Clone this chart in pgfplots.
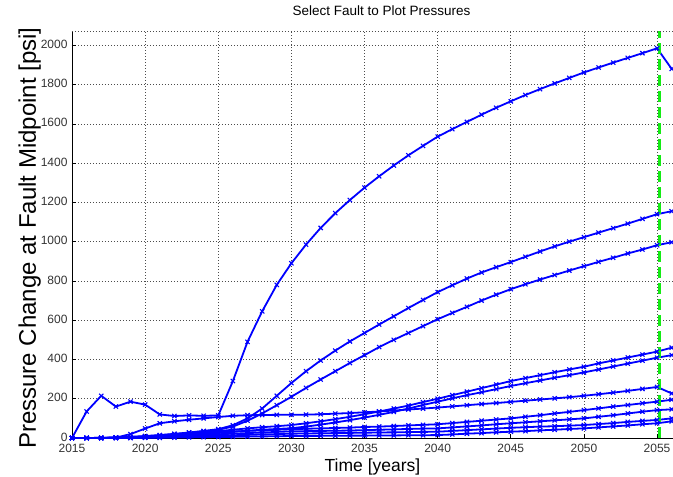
\documentclass[border=0pt]{standalone}
\usepackage{pgfplots}
\pgfplotsset{compat=1.18}
\usepackage{pgfplotstable}
\usepackage{fontspec}
\setmainfont{Liberation Sans}
\definecolor{mblue}{RGB}{0,0,255}
\definecolor{mgreen}{RGB}{20,235,20}
\pgfplotstableread{
year A B C D Dp E F G H I
2015 0 0 0 0 0 0 0 0 0 0
2016 135 0 0 0 0 0 0 0 0 0
2017 215 1 1 0 0 0 0 0 0 0
2018 160 3 2 1 1 2 1 1 0 0
2019 185 6 5 3 2 20 3 2 1 0
2020 170 10 9 6 4 48 6 4 2 1
2021 120 15 14 10 7 75 10 6 4 1
2022 112 21 20 15 11 85 14 9 6 2
2023 115 28 27 21 16 93 19 12 8 3
2024 113 36 34 28 21 100 24 15 10 4
2025 115 45 42 35 27 107 29 19 12 5
2026 290 65 58 42 32 113 33 22 14 6
2027 490 100 88 49 37 116 36 25 16 7
2028 645 150 125 55 42 117 39 28 18 8
2029 780 215 167 60 46 118 42 31 20 9
2030 890 280 210 66 50 118 45 34 22 10
2031 985 340 255 75 58 119 47 35 23 10
2032 1070 395 298 85 68 121 49 36 24 11
2033 1145 445 340 96 79 124 51 37 25 11
2034 1212 492 382 108 91 127 53 38 26 12
2035 1275 535 422 121 104 131 56 40 27 12
2036 1333 578 463 135 118 135 58 42 28 13
2037 1388 620 500 150 133 140 61 44 29 13
2038 1440 662 535 165 150 145 64 46 30 14
2039 1488 703 570 183 168 150 67 48 31 14
2040 1535 743 605 200 185 155 70 49 32 15
2041 1573 778 637 218 202 161 76 54 36 18
2042 1610 812 668 236 218 167 82 59 40 22
2043 1647 843 700 254 233 173 88 64 44 25
2044 1682 870 730 272 249 178 94 70 48 29
2045 1715 896 758 290 265 184 100 75 52 32
2046 1747 923 783 305 279 190 108 80 55 35
2047 1777 950 807 320 293 196 116 85 58 39
2048 1806 976 830 335 307 202 125 90 60 42
2049 1834 1000 853 349 320 208 133 95 63 46
2050 1862 1023 875 363 334 215 142 100 66 49
2051 1887 1046 897 380 349 223 151 108 71 54
2052 1912 1069 918 395 364 231 160 116 76 59
2053 1936 1092 940 410 379 240 168 125 82 64
2054 1960 1116 960 425 394 250 177 134 87 70
2055 1985 1140 982 440 409 260 185 142 92 75
2056 1880 1155 997 460 422 227 195 146 100 85
}\datatable
\pgfplotsset{ser/.style={mblue, line width=1.8pt, mark=x, mark size=3pt, mark options={line width=1.1pt, solid}}}
\begin{document}
\begin{tikzpicture}
\begin{axis}[
  scale only axis,
  width=601pt, height=407pt,
  xmin=2015, xmax=2056.09,
  ymin=0, ymax=2073,
  xtick={2015,2020,...,2055},
  ytick={0,200,...,2000},
  xticklabel style={/pgf/number format/1000 sep={}, font=\fontsize{12}{12}\selectfont, text=black!80, yshift=-2.5pt},
  yticklabel style={/pgf/number format/1000 sep={}, font=\fontsize{12}{12}\selectfont, text=black!80, xshift=-1pt, yshift=1pt},
  /pgf/number format/assume math mode=true,
  axis x line*=bottom, axis y line*=left,
  axis line style={-, black, line width=0.6pt},
  tick align=inside,
  major tick length=4pt,
  tick style={black, line width=0.6pt},
  grid=major,
  grid style={dash pattern=on 0.7pt off 2.3pt, black!70, line width=0.6pt},
  clip=false,
  title={Select Fault to Plot Pressures},
  title style={at={(axis description cs:0.515,1.024)}, anchor=base, font=\fontsize{13.5}{13.5}\selectfont},
  xlabel={Time [years]},
  xlabel style={at={(axis description cs:0.5,-0.083)}, anchor=base, font=\fontsize{17.5}{17.5}\selectfont},
  ylabel={Pressure Change at Fault Midpoint [psi]},
  ylabel style={at={(axis description cs:-0.06,0.491)}, anchor=base, rotate=0, font=\fontsize{24}{24}\selectfont},
]
\addplot[ser] table[x=year,y=I] {\datatable};
\addplot[ser] table[x=year,y=H] {\datatable};
\addplot[ser] table[x=year,y=G] {\datatable};
\addplot[ser] table[x=year,y=F] {\datatable};
\addplot[ser] table[x=year,y=E] {\datatable};
\addplot[ser] table[x=year,y=Dp] {\datatable};
\addplot[ser] table[x=year,y=D] {\datatable};
\addplot[ser] table[x=year,y=C] {\datatable};
\addplot[ser] table[x=year,y=B] {\datatable};
\addplot[ser] table[x=year,y=A] {\datatable};
\addplot[mgreen, line width=2.8pt, dash pattern=on 11pt off 5pt, mark=none] coordinates {(2055.15,0) (2055.15,2073)};
\draw[dash pattern=on 0.7pt off 2.3pt, black!70, line width=0.6pt] (rel axis cs:0,1) -- (rel axis cs:1,1);
\coordinate (O) at (rel axis cs:0,0);
\end{axis}
\pgfresetboundingbox
\path ([shift={(-72pt,-39pt)}]O) rectangle ++(673pt,477pt);
\end{tikzpicture}
\end{document}
